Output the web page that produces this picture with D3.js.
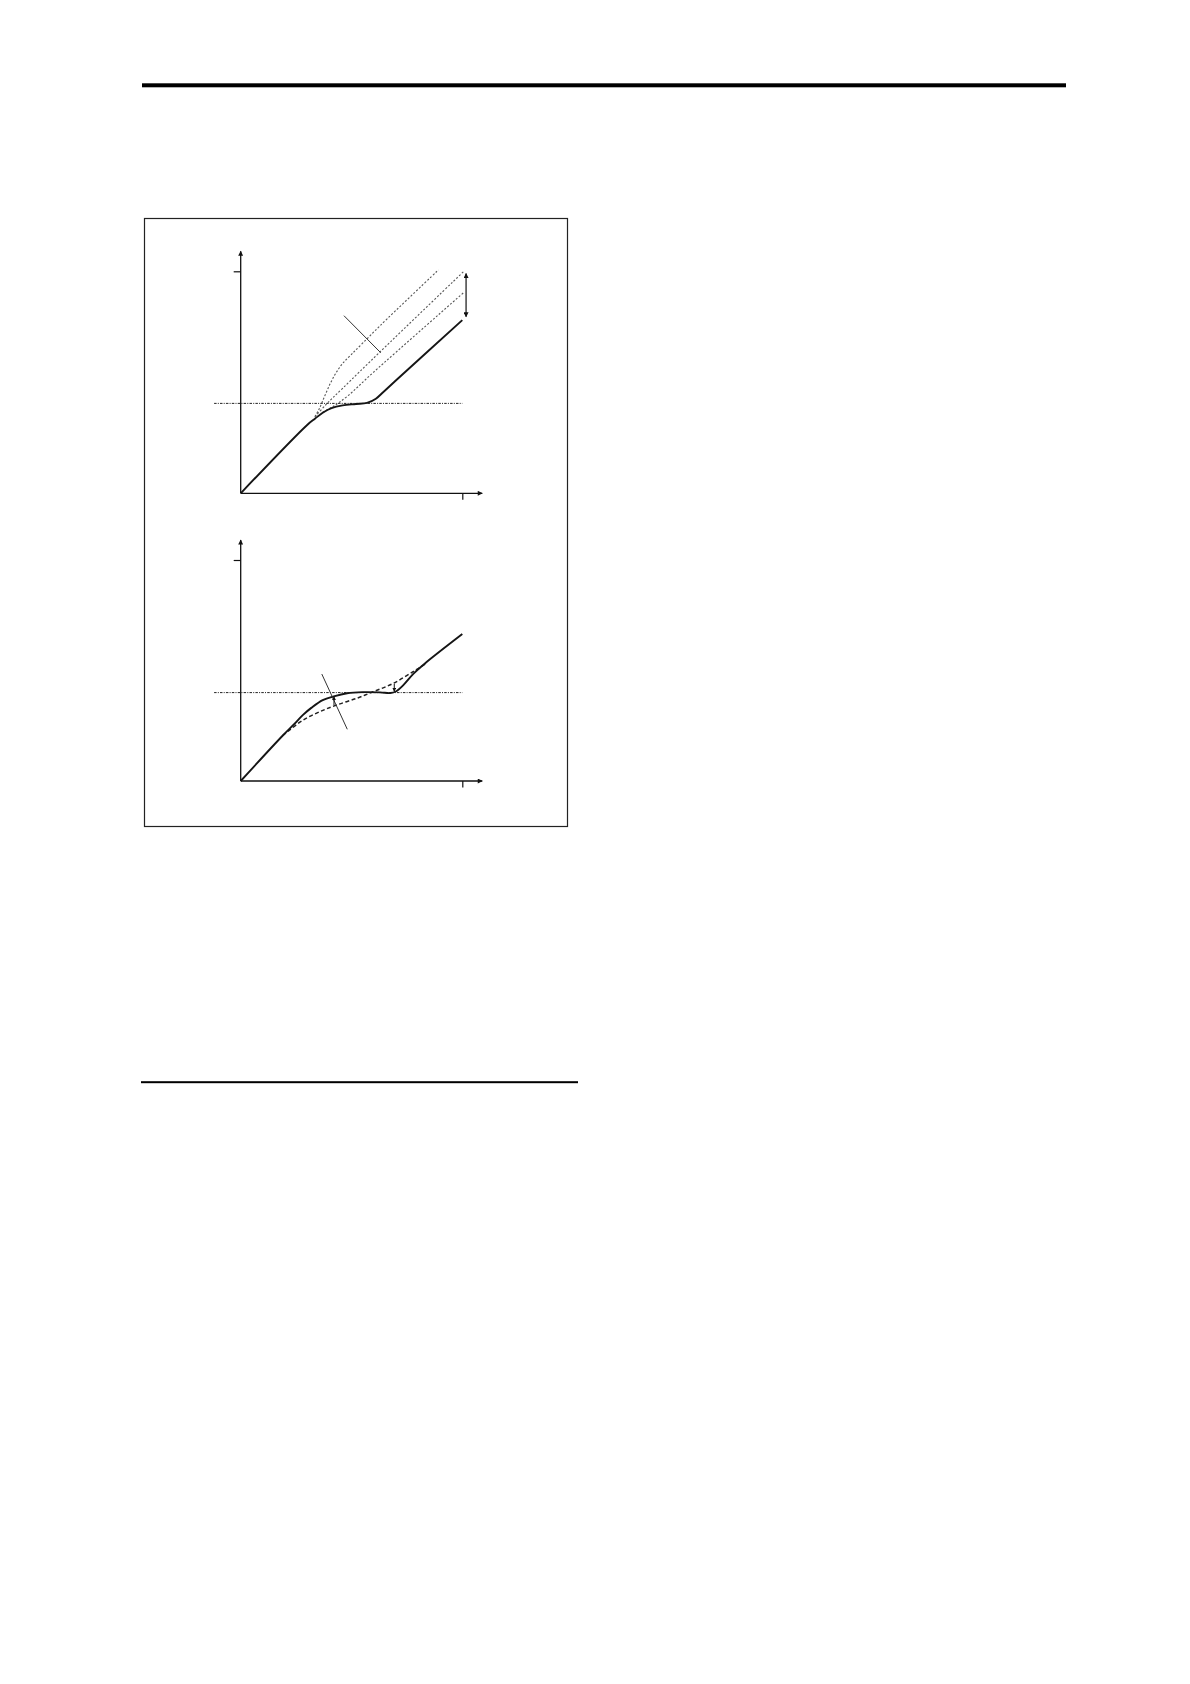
<!DOCTYPE html>
<html>
<head>
<meta charset="utf-8">
<script src="https://cdn.jsdelivr.net/npm/d3@7"></script>
<style>
  body { margin: 0; background: #fff; }
  svg { display: block; }
</style>
</head>
<body>
<svg id="page" width="1190" height="1684"></svg>
<script>
// input/output level curves, both axes 0..100 (tick at 100)
const tickValues = [100];
const axisEnd = 109;
const thresholdSpan = [-12, 100];

// upper panel
const topThreshold = 40.5;
const topSolid = [[0, 0], [30, 30.8], [33.5, 33.6], [37, 36.3], [41, 38.4], [46, 39.6], [52, 40.2], [57, 40.7], [61, 42.6], [64, 45.3], [70, 50.8], [100, 78]];
const topDashA = [[33.5, 34.5], [35.5, 38.2], [38, 44], [40.5, 49.6], [43, 54.2], [46, 58.5], [50, 62.6], [55, 67.6], [63, 75.6], [89.2, 100.6]];
const topDashB = [[33.5, 34.5], [38.8, 40.3], [46, 47.3], [63.2, 64], [100.5, 99.8]];
const topDashC = [[37, 36.5], [42, 39.3], [48, 43.6], [60, 54.6], [100.5, 90.3]];
const topRange = { x: 101.7, from: 79.5, to: 99 };
const topLeader = [[46.6, 80], [63.2, 63.3]];

// lower panel
const bottomThreshold = 40;
const bottomSolid = [[0, 0], [19, 20.6], [24, 25.6], [28, 29.8], [32, 33.2], [37, 36.6], [42, 38.3], [48, 39.7], [55, 40.2], [63, 40.1], [67.5, 39.8], [70, 40.5], [73.4, 43.4], [78, 48.6], [83, 53.1], [100, 66.5]];
const bottomDash = [[19, 20.6], [22, 23], [28.2, 27.6], [35.8, 31.4], [43.3, 34.4], [52.3, 37.4], [59.8, 40.4], [68.9, 44.2], [78, 49.6], [84, 53.4]];
const bottomCross = [[36.6, 48.4], [48.1, 23.4]];
const bottomGaps = [
    { x: 42.1, from: 34.3, to: 38.2 },
    { x: 69.3, from: 44.0, to: 40.6 },
];

const svg = d3.select("#page");

// page rules and frame
svg.append("rect")
    .attr("x", 142).attr("y", 83.3)
    .attr("width", 924).attr("height", 4)
    .attr("fill", "#000");

svg.append("rect")
    .attr("x", 141).attr("y", 1081.2)
    .attr("width", 437).attr("height", 2)
    .attr("fill", "#000");

svg.append("rect")
    .attr("x", 144.5).attr("y", 218.5)
    .attr("width", 423).attr("height", 608)
    .attr("fill", "none")
    .attr("stroke", "#222")
    .attr("stroke-width", 1.2);

// arrow heads
const defs = svg.append("defs");
defs.append("marker")
    .attr("id", "head")
    .attr("viewBox", "0 0 10 10")
    .attr("refX", 9).attr("refY", 5)
    .attr("markerWidth", 7).attr("markerHeight", 5)
    .attr("markerUnits", "userSpaceOnUse")
    .attr("orient", "auto-start-reverse")
    .append("path")
    .attr("d", "M0,0 L10,5 L0,10 Z")
    .attr("fill", "#111");

defs.append("marker")
    .attr("id", "small")
    .attr("viewBox", "0 0 10 10")
    .attr("refX", 9).attr("refY", 5)
    .attr("markerWidth", 4).attr("markerHeight", 4)
    .attr("markerUnits", "userSpaceOnUse")
    .attr("orient", "auto-start-reverse")
    .append("path")
    .attr("d", "M0,0 L10,5 L0,10 Z")
    .attr("fill", "#111");

const x = d3.scaleLinear().domain([0, 100]).range([240.7, 462.3]);

function drawAxes(g, y) {
    // y axis with tick at 100
    g.append("g")
        .attr("transform", `translate(${x(0)},0)`)
        .call(d3.axisLeft(y).tickValues(tickValues).tickSize(7).tickSizeOuter(0).tickFormat(""))
        .call(a => a.select(".domain").remove())
        .call(a => a.selectAll(".tick line").attr("stroke", "#111").attr("stroke-width", 1.2));

    g.append("g")
        .attr("transform", `translate(0,${y(0)})`)
        .call(d3.axisBottom(x).tickValues(tickValues).tickSize(6.5).tickSizeOuter(0).tickFormat(""))
        .call(a => a.select(".domain").remove())
        .call(a => a.selectAll(".tick line").attr("stroke", "#111").attr("stroke-width", 1.2));

    g.append("line")
        .attr("x1", x(0)).attr("y1", y(0))
        .attr("x2", x(0)).attr("y2", y(axisEnd))
        .attr("stroke", "#111").attr("stroke-width", 1.3)
        .attr("marker-end", "url(#head)");

    g.append("line")
        .attr("x1", x(0)).attr("y1", y(0))
        .attr("x2", x(axisEnd)).attr("y2", y(0))
        .attr("stroke", "#111").attr("stroke-width", 1.3)
        .attr("marker-end", "url(#head)");
}

function drawThreshold(g, y, level) {
    g.append("line")
        .attr("x1", x(thresholdSpan[0])).attr("x2", x(thresholdSpan[1]))
        .attr("y1", y(level)).attr("y2", y(level))
        .attr("stroke", "#222")
        .attr("stroke-width", 1)
        .attr("stroke-dasharray", "2.5,1.2,1,1.2");
}

function drawCurve(g, line, pts, style) {
    g.append("path")
        .datum(pts)
        .attr("d", line)
        .attr("fill", "none")
        .attr("stroke", style.color)
        .attr("stroke-width", style.width)
        .attr("stroke-dasharray", style.dash || null)
        .attr("stroke-linejoin", "round");
}

function drawSegment(g, y, pts, width) {
    g.append("line")
        .attr("x1", x(pts[0][0])).attr("y1", y(pts[0][1]))
        .attr("x2", x(pts[1][0])).attr("y2", y(pts[1][1]))
        .attr("stroke", "#333")
        .attr("stroke-width", width);
}

// ---- upper panel
const yTop = d3.scaleLinear().domain([0, 100]).range([493.3, 271.3]);
const gTop = svg.append("g");
const lineTop = d3.line().x(d => x(d[0])).y(d => yTop(d[1])).curve(d3.curveCatmullRom.alpha(0.5));

drawThreshold(gTop, yTop, topThreshold);
drawCurve(gTop, lineTop, topDashA, { color: "#555", width: 1.1, dash: "2,1.8" });
drawCurve(gTop, lineTop, topDashB, { color: "#555", width: 1.1, dash: "2,1.8" });
drawCurve(gTop, lineTop, topDashC, { color: "#555", width: 1.1, dash: "2,1.8" });
drawCurve(gTop, lineTop, topSolid, { color: "#151515", width: 1.9 });
drawAxes(gTop, yTop);
drawSegment(gTop, yTop, topLeader, 1);

gTop.append("line")
    .attr("x1", x(topRange.x)).attr("y1", yTop(topRange.from))
    .attr("x2", x(topRange.x)).attr("y2", yTop(topRange.to))
    .attr("stroke", "#111").attr("stroke-width", 1.2)
    .attr("marker-start", "url(#head)")
    .attr("marker-end", "url(#head)");

// ---- lower panel
const yBottom = d3.scaleLinear().domain([0, 100]).range([781, 560]);
const gBottom = svg.append("g");
const lineBottom = d3.line().x(d => x(d[0])).y(d => yBottom(d[1])).curve(d3.curveCatmullRom.alpha(0.5));

drawThreshold(gBottom, yBottom, bottomThreshold);
drawCurve(gBottom, lineBottom, bottomDash, { color: "#222", width: 1.5, dash: "4,2.5" });
drawCurve(gBottom, lineBottom, bottomSolid, { color: "#151515", width: 1.9 });
drawAxes(gBottom, yBottom);
drawSegment(gBottom, yBottom, bottomCross, 1);

gBottom.selectAll(".gap")
    .data(bottomGaps)
    .enter().append("line")
    .attr("class", "gap")
    .attr("x1", d => x(d.x)).attr("y1", d => yBottom(d.from))
    .attr("x2", d => x(d.x)).attr("y2", d => yBottom(d.to))
    .attr("stroke", "#111").attr("stroke-width", 1)
    .attr("marker-end", "url(#small)");
</script>
</body>
</html>
